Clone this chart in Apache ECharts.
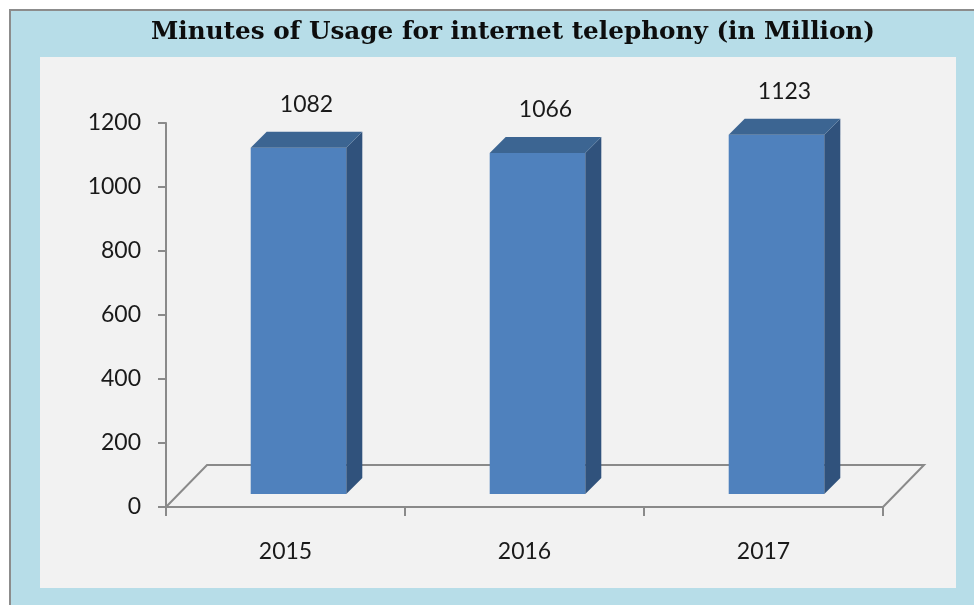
<!DOCTYPE html>
<html>
<head>
<meta charset="utf-8">
<script src="https://cdn.jsdelivr.net/npm/echarts@6/dist/echarts.min.js"></script>
<style>
html,body{margin:0;padding:0;background:#ffffff;}
#chart{width:974px;height:605px;}
</style>
</head>
<body>
<div id="chart"></div>
<script>
const titleText = 'Minutes of Usage for internet telephony (in Million)';
const categories = ['2015', '2016', '2017'];
const usageValues = [1082, 1066, 1123];
const yTicks = { min: 0, max: 1200, interval: 200 };

const chart = echarts.init(document.getElementById('chart'), null, { renderer: 'canvas' });

const FRONT = '#4f81bd', SIDE = '#30527c', TOP = '#3c6592';
const SHIFT = 13, DEPTH = 16, FLOOR_DX = 41, FLOOR_DY = 42;
const AXIS_COLOR = '#8a8a8a';
const FONT = 'Lato, "Open Sans", sans-serif';

const option = {
  animation: false,
  backgroundColor: '#ffffff',
  graphic: [
    { type: 'rect', z: -10, shape: { x: 10, y: 10, width: 1000, height: 1000 },
      style: { fill: '#b7dde8', stroke: '#8c8c8c', lineWidth: 2 } },
    { type: 'rect', z: -9, shape: { x: 40, y: 57, width: 916, height: 531 },
      style: { fill: '#f2f2f2' } },
    { type: 'text', z: 10, x: 513, y: 33,
      style: { text: titleText, fill: '#0d0d0d', font: 'bold 24.7px "DejaVu Serif", serif',
               textAlign: 'center', textVerticalAlign: 'middle' } }
  ],
  grid: { left: 166, right: 91, top: 123, bottom: 98 },
  xAxis: {
    type: 'category',
    data: categories,
    boundaryGap: true,
    axisLine: { lineStyle: { color: AXIS_COLOR, width: 2 } },
    axisTick: { show: true, length: 9, lineStyle: { color: AXIS_COLOR, width: 2 } },
    axisLabel: { color: '#1a1a1a', fontFamily: FONT, fontSize: 23, margin: 33 }
  },
  yAxis: {
    type: 'value',
    min: yTicks.min, max: yTicks.max, interval: yTicks.interval,
    axisLine: { show: true, lineStyle: { color: AXIS_COLOR, width: 2 } },
    axisTick: { show: true, length: 8, lineStyle: { color: AXIS_COLOR, width: 2 } },
    splitLine: { show: false },
    axisLabel: { color: '#1a1a1a', fontFamily: FONT, fontSize: 23, margin: 25,
                 formatter: function (v) { return String(v); } }
  },
  series: [
    {
      type: 'custom',
      name: 'floor',
      z: 1,
      silent: true,
      data: [[0, 0]],
      renderItem: function (params, api) {
        const band = api.size([1, 0])[0];
        const first = api.coord([0, 0]);
        const last = api.coord([categories.length - 1, 0]);
        const left = first[0] - band / 2, right = last[0] + band / 2, y0 = first[1];
        return {
          type: 'polyline',
          shape: { points: [[left, y0], [left + FLOOR_DX, y0 - FLOOR_DY],
                            [right + FLOOR_DX, y0 - FLOOR_DY], [right, y0]] },
          style: { stroke: AXIS_COLOR, lineWidth: 2, fill: null }
        };
      }
    },
    {
      type: 'custom',
      name: 'Minutes of Usage',
      z: 3,
      data: categories.map((c, i) => [i, usageValues[i]]),
      renderItem: function (params, api) {
        const cat = api.value(0), v = api.value(1);
        const base = api.coord([cat, 0]);
        const top = api.coord([cat, v]);
        const band = api.size([1, 0])[0];
        const w = band * 0.4;
        const x0 = base[0] - w / 2 + SHIFT;
        const yb = base[1] - SHIFT, yt = top[1] - SHIFT;
        return {
          type: 'group',
          children: [
            { type: 'rect', shape: { x: x0, y: yt, width: w, height: yb - yt },
              style: { fill: FRONT } },
            { type: 'polygon', shape: { points: [[x0 + w, yt], [x0 + w + DEPTH, yt - DEPTH],
                [x0 + w + DEPTH, yb - DEPTH], [x0 + w, yb]] }, style: { fill: SIDE } },
            { type: 'polygon', shape: { points: [[x0, yt], [x0 + DEPTH, yt - DEPTH],
                [x0 + w + DEPTH, yt - DEPTH], [x0 + w, yt]] }, style: { fill: TOP } },
            { type: 'text', x: x0 + w / 2 + 8, y: yt - DEPTH - 27,
              style: { text: String(v), fill: '#1a1a1a', font: '23px ' + FONT,
                       textAlign: 'center', textVerticalAlign: 'middle' } }
          ]
        };
      }
    }
  ]
};
chart.setOption(option);
</script>
</body>
</html>
